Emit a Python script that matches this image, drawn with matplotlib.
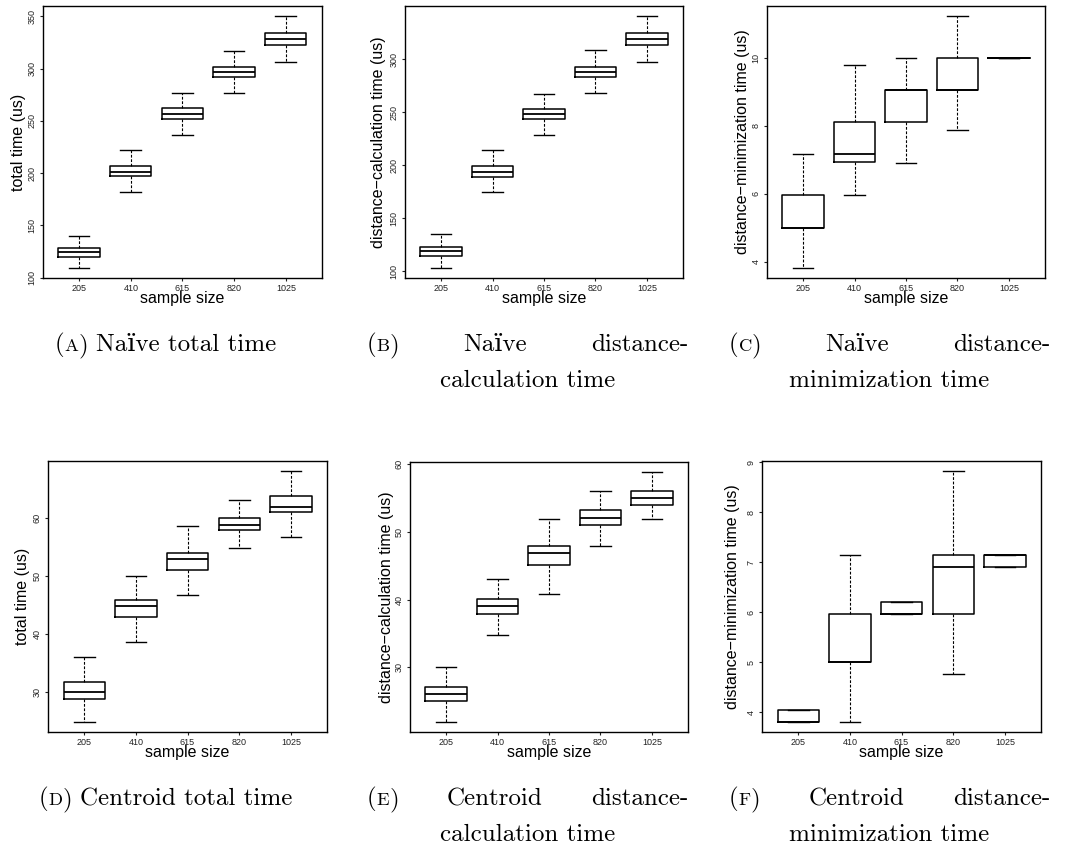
import matplotlib
matplotlib.use('Agg')
import matplotlib.pyplot as plt

# sample sizes on the x axis
sizes = ['205', '410', '615', '820', '1025']

# (A) naive total time
a_lo = [109.3, 182.2, 236.8, 277.1, 306.8]
a_q1 = [119.8, 196.9, 251.9, 291.8, 322.8]
a_med = [124.3, 201.0, 257.0, 297.0, 328.3]
a_q3 = [128.5, 207.1, 262.1, 302.0, 333.7]
a_hi = [140.0, 221.8, 277.1, 317.1, 350.3]
a_ticks = [100, 150, 200, 250, 300, 350]

# (B) naive distance-calculation time
b_lo = [103.1, 175.0, 228.8, 268.2, 297.2]
b_q1 = [114.8, 188.8, 243.3, 283.0, 313.2]
b_med = [119.2, 193.9, 248.0, 287.7, 318.6]
b_q3 = [123.0, 199.2, 253.1, 293.0, 324.3]
b_hi = [135.0, 214.0, 266.9, 308.2, 340.6]
b_ticks = [100, 150, 200, 250, 300]

# (C) naive distance-minimization time
c_lo = [3.82, 5.96, 6.91, 7.86, 10.0]
c_q1 = [5.0, 6.92, 8.11, 9.06, 10.0]
c_med = [5.0, 7.16, 9.06, 9.06, 10.0]
c_q3 = [5.96, 8.1, 9.06, 10.0, 10.0]
c_hi = [7.16, 9.77, 10.0, 11.22, 10.0]
c_ticks = [4, 6, 8, 10]

# (D) centroid total time
d_lo = [24.86, 38.6, 46.7, 54.78, 56.68]
d_q1 = [28.85, 42.9, 51.0, 57.88, 60.98]
d_med = [30.06, 44.86, 52.9, 58.86, 61.96]
d_q3 = [31.72, 45.95, 54.04, 60.0, 63.79]
d_hi = [35.97, 50.0, 58.57, 63.1, 68.1]
d_ticks = [30, 40, 50, 60]

# (E) centroid distance-calculation time
e_lo = [21.92, 34.8, 40.77, 47.87, 51.93]
e_q1 = [25.0, 37.93, 45.03, 50.95, 54.03]
e_med = [25.99, 39.1, 46.94, 51.98, 55.06]
e_q3 = [27.16, 40.03, 47.87, 53.15, 55.99]
e_hi = [30.0, 43.1, 51.93, 55.99, 58.83]
e_ticks = [30, 40, 50, 60]

# (F) centroid distance-minimization time
f_lo = [3.81, 3.81, 5.96, 4.77, 6.91]
f_q1 = [3.81, 5.0, 5.96, 5.96, 6.91]
f_med = [3.81, 5.0, 5.96, 6.91, 7.15]
f_q3 = [4.05, 5.96, 6.2, 7.15, 7.15]
f_hi = [4.05, 7.15, 6.2, 8.82, 7.15]
f_ticks = [4, 5, 6, 7, 8, 9]

ylabels = ['total time (us)', 'distance\u2212calculation time (us)',
           'distance\u2212minimization time (us)']

W, H = 1066, 844
fig = plt.figure(figsize=(W / 100, H / 100), dpi=100)
SANS = ['Liberation Sans', 'DejaVu Sans']
SERIF = ['cmr10', 'DejaVu Serif']

# (left, top, right, bottom, ylabel x) in pixels
panels = [
    ((43, 6, 322, 278, 18), (a_lo, a_q1, a_med, a_q3, a_hi), a_ticks, ylabels[0]),
    ((405, 6, 683, 278, 378), (b_lo, b_q1, b_med, b_q3, b_hi), b_ticks, ylabels[1]),
    ((767, 6, 1045, 278, 742), (c_lo, c_q1, c_med, c_q3, c_hi), c_ticks, ylabels[2]),
    ((48, 461, 327, 732, 23), (d_lo, d_q1, d_med, d_q3, d_hi), d_ticks, ylabels[0]),
    ((410, 462, 688, 732, 387), (e_lo, e_q1, e_med, e_q3, e_hi), e_ticks, ylabels[1]),
    ((762, 461, 1041, 732, 732), (f_lo, f_q1, f_med, f_q3, f_hi), f_ticks, ylabels[2]),
]

for (l, t, r, b, lx), (lo, q1, med, q3, hi), ticks, ylab in panels:
    ax = fig.add_axes([l / W, 1 - b / H, (r - l) / W, (b - t) / H])
    stats = [dict(whislo=lo[i], q1=q1[i], med=med[i], q3=q3[i], whishi=hi[i], fliers=[])
             for i in range(len(sizes))]
    ax.bxp(stats, positions=range(1, len(sizes) + 1), widths=0.8, capwidths=0.4,
           showfliers=False,
           boxprops=dict(color='k', lw=1.1),
           medianprops=dict(color='k', lw=1.3),
           whiskerprops=dict(color='k', lw=0.8, ls=(0, (2.5, 1.5))),
           capprops=dict(color='k', lw=1.0))
    rng = max(hi) - min(lo)
    ax.set_ylim(min(lo) - 0.04 * rng, max(hi) + 0.04 * rng)
    ax.set_xlim(0.3, len(sizes) + 0.7)
    ax.set_xticks(range(1, len(sizes) + 1), sizes)
    ax.set_yticks(ticks)
    ax.tick_params(direction='out', length=2.5, width=0.8, labelsize=6.5, pad=2,
                   colors='#222222', top=False, right=False)
    ax.tick_params(axis='y', labelrotation=90)
    for lab in ax.get_yticklabels():
        lab.set_va('center')
    for lab in ax.get_xticklabels() + ax.get_yticklabels():
        lab.set_family(SANS)
    for sp in ax.spines.values():
        sp.set_linewidth(1.0)
    ax.set_ylabel(ylab, fontsize=11.5, family=SANS, va='center')
    ax.yaxis.set_label_coords((lx - l) / (r - l), 0.5)
    ax.set_xlabel('sample size', fontsize=11.5, family=SANS, va='center')
    ax.xaxis.set_label_coords(0.5, -21 / (b - t))

# captions below each column
renderer = fig.canvas.get_renderer()
CAP = 18


def put(x, y, s, size=CAP, ha='left'):
    return fig.text(x / W, 1 - y / H, s, fontsize=size, family=SERIF, ha=ha, va='baseline')


def width(s, size=CAP):
    tmp = put(0, 0, s, size)
    w = tmp.get_window_extent(renderer).width
    tmp.remove()
    return w


def tag(x, y, letter):
    put(x, y, '(')
    x += width('(')
    put(x, y, letter, CAP * 0.74)
    x += width(letter, CAP * 0.74)
    put(x, y, ')')
    return x + width(')')


def tag_width(letter):
    return width('(') + width(letter, CAP * 0.74) + width(')')


cols = [(5, 326), (367, 688), (729, 1050)]
captions = [
    ('A', 'Naïve total time', None, None),
    ('B', 'Naïve', 'distance-', 'calculation time'),
    ('C', 'Naïve', 'distance-', 'minimization time'),
    ('D', 'Centroid total time', None, None),
    ('E', 'Centroid', 'distance-', 'calculation time'),
    ('F', 'Centroid', 'distance-', 'minimization time'),
]

for k, (letter, w1, w2, line2) in enumerate(captions):
    x0, x1 = cols[k % 3]
    y = 351 + 454 * (k // 3)
    if w2 is None:
        total = tag_width(letter) + width(' ' + w1)
        start = (x0 + x1) / 2 - total / 2
        e = tag(start, y, letter)
        put(e + width(' '), y, w1)
    else:
        e = tag(x0, y, letter)
        gap = (x1 - e - width(w1) - width(w2)) / 2
        put(e + gap, y, w1)
        put(x1, y, w2, ha='right')
        put((x0 + x1) / 2, y + 36, line2, ha='center')

fig.savefig('out.png', dpi=100)
